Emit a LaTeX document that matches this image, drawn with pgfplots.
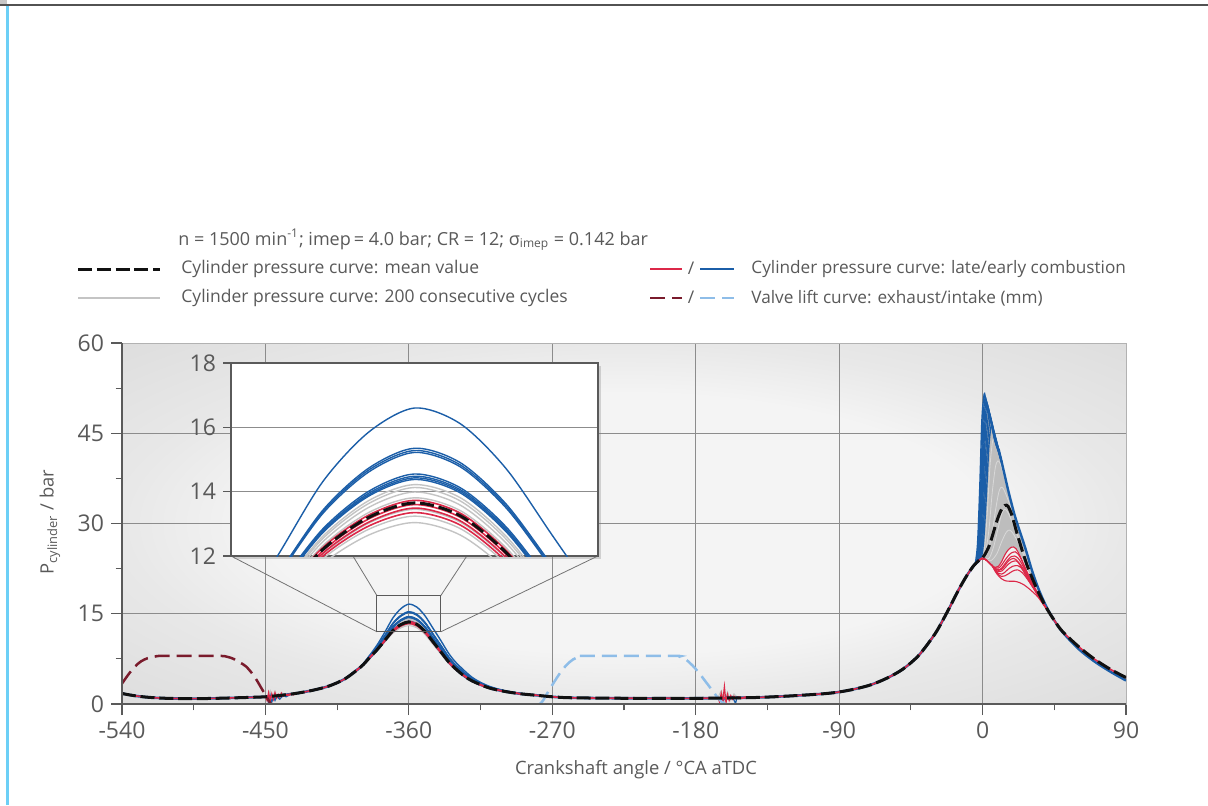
\documentclass[border=0pt]{standalone}
\usepackage{fontspec}
\setmainfont{Open Sans}
\usepackage{pgfplots}
\usepackage{pgfplotstable}
\pgfplotsset{compat=1.18}
\usetikzlibrary{shadows}

\definecolor{txt}{HTML}{595959}
\definecolor{meanc}{HTML}{111111}
\definecolor{latec}{HTML}{DC2848}
\definecolor{earlyc}{HTML}{1B5EA8}
\definecolor{exhc}{HTML}{7A1B2C}
\definecolor{intc}{HTML}{8EBDE8}
\definecolor{cycc}{HTML}{C4C4C4}
\definecolor{cycwc}{HTML}{D8D8D8}
\definecolor{cycfill}{HTML}{BDBDBD}
\definecolor{gridc}{HTML}{8C8C8C}
\definecolor{axc}{HTML}{5A5A5A}
\definecolor{edgeblue}{HTML}{6CCFF6}
\definecolor{bgin}{HTML}{F4F4F4}
\definecolor{bgedge}{HTML}{E8E8E8}
\definecolor{bgcorner}{HTML}{DDDDDD}

\pgfdeclareradialshading{vign}{\pgfpoint{0bp}{0bp}}{color(0bp)=(bgin); color(18bp)=(bgin); color(25bp)=(bgedge); color(36bp)=(bgcorner); color(50bp)=(bgcorner)}

\newcommand{\legfont}{\fontsize{8.75}{10}\selectfont}
\newcommand{\tickfont}{\fontsize{11.5}{13}\selectfont}

\pgfplotsset{
  meanl/.style={color=meanc, line width=1.5pt, dash pattern=on 7pt off 2.4pt, smooth},
  latel/.style={color=latec, line width=0.55pt, smooth},
  earlyl/.style={color=earlyc, line width=0.7pt, smooth},
  cycl/.style={color=cycc, line width=0.5pt, smooth},
  cycw/.style={color=cycwc, line width=0.4pt, smooth},
  exhl/.style={color=exhc, line width=1.25pt, dash pattern=on 7.5pt off 3.5pt, smooth},
  intl/.style={color=intc, line width=1.25pt, dash pattern=on 7.5pt off 3.5pt, smooth},
}

% mean cylinder pressure over the whole cycle
\pgfplotstableread{
x y
-540 1.75
-535 1.5
-530 1.3
-525 1.15
-520 1.05
-515 0.98
-510 0.93
-500 0.9
-490 0.9
-480 0.95
-470 1.02
-460 1.1
-450 1.2
-440 1.45
-430 1.8
-420 2.3
-410 3.0
-400 4.2
-390 6.2
-385 7.6
-380 9.0
-375 10.6
-370 12.2
-365 13.2
-360 13.65
-355 13.25
-350 12.1
-345 10.4
-340 8.7
-335 7.0
-330 5.7
-325 4.6
-320 3.8
-310 2.7
-300 2.1
-290 1.7
-280 1.45
-270 1.2
-260 1.05
-240 0.98
-220 0.95
-200 0.95
-180 0.95
-160 1.0
-140 1.1
-120 1.35
-100 1.7
-90 2.0
-80 2.5
-70 3.2
-60 4.3
-50 5.8
-40 8.1
-30 11.6
-25 13.9
-20 16.4
-15 19.0
-10 21.3
-6 22.85
-4 23.45
-2 23.95
0 24.3
2 25.1
4 26.2
6 27.8
8 29.6
10 31.2
12 32.4
14 33.0
15 33.05
16 32.85
18 31.7
20 29.9
22 28.0
25 25.4
28 23.0
31 21.0
35 18.6
40 16.0
45 13.9
50 12.1
60 9.6
70 7.5
80 5.8
90 4.4
}\tabMean

% single cycles around gas exchange TDC
\pgfplotstableread{
x M B1 B2 B3 B4 B5 B6 B7 B8 G1 G2 G3 G4 G5 G6 G7 R1 R2 R3 R4
-400 4.2 4.2 4.2 4.2 4.2 4.2 4.2 4.2 4.2 4.2 4.2 4.2 4.2 4.2 4.2 4.2 4.2 4.2 4.2 4.2
-390 6.2 6.33 6.28 6.27 6.27 6.24 6.24 6.24 6.23 6.17 6.18 6.19 6.21 6.22 6.22 6.23 6.19 6.19 6.20 6.20
-385 7.6 7.96 7.81 7.80 7.79 7.71 7.70 7.70 7.69 7.53 7.55 7.57 7.62 7.64 7.66 7.67 7.56 7.58 7.59 7.61
-380 9.0 9.78 9.45 9.43 9.41 9.24 9.22 9.21 9.19 8.84 8.89 8.95 9.04 9.09 9.13 9.15 8.92 8.96 8.99 9.02
-375 10.6 11.97 11.39 11.36 11.33 11.02 10.99 10.96 10.94 10.31 10.41 10.50 10.68 10.76 10.82 10.87 10.46 10.52 10.57 10.64
-370 12.2 14.31 13.42 13.37 13.32 12.84 12.79 12.76 12.72 11.76 11.91 12.05 12.32 12.44 12.54 12.61 11.99 12.08 12.16 12.26
-365 13.2 15.85 14.73 14.67 14.61 14.01 13.95 13.90 13.86 12.65 12.83 13.02 13.35 13.51 13.63 13.72 12.93 13.05 13.15 13.27
-360 13.65 16.60 15.35 15.28 15.22 14.55 14.48 14.43 14.38 13.04 13.24 13.45 13.81 13.99 14.13 14.22 13.35 13.49 13.60 13.73
-355 13.25 16.11 14.90 14.83 14.77 14.12 14.06 14.01 13.96 12.65 12.85 13.05 13.41 13.58 13.71 13.81 12.96 13.09 13.20 13.33
-350 12.1 14.71 13.61 13.55 13.49 12.90 12.84 12.79 12.75 11.56 11.74 11.92 12.25 12.40 12.52 12.61 11.83 11.95 12.05 12.17
-345 10.4 12.65 11.70 11.64 11.60 11.09 11.03 10.99 10.96 9.93 10.09 10.24 10.53 10.66 10.76 10.84 10.17 10.28 10.36 10.46
-340 8.7 10.58 9.78 9.74 9.70 9.27 9.23 9.20 9.17 8.31 8.44 8.57 8.80 8.92 9.01 9.07 8.51 8.60 8.67 8.75
-335 7.0 8.42 7.82 7.79 7.76 7.43 7.40 7.38 7.35 6.70 6.80 6.90 7.08 7.17 7.23 7.28 6.86 6.92 6.97 7.04
-330 5.7 6.78 6.32 6.30 6.28 6.03 6.01 5.99 5.98 5.47 5.55 5.62 5.76 5.83 5.88 5.91 5.59 5.64 5.68 5.73
-320 3.8 4.38 4.13 4.12 4.11 3.98 3.96 3.95 3.94 3.68 3.72 3.76 3.83 3.87 3.89 3.91 3.74 3.77 3.79 3.82
-310 2.7 2.99 2.87 2.86 2.86 2.79 2.78 2.78 2.77 2.64 2.66 2.68 2.72 2.73 2.75 2.76 2.67 2.68 2.69 2.71
-300 2.1 2.24 2.18 2.18 2.17 2.14 2.14 2.14 2.13 2.07 2.08 2.09 2.11 2.12 2.12 2.13 2.09 2.09 2.10 2.10
-290 1.7 1.74 1.73 1.72 1.72 1.71 1.71 1.71 1.71 1.7 1.7 1.7 1.7 1.7 1.7 1.7 1.7 1.7 1.7 1.7
-280 1.45 1.45 1.45 1.45 1.45 1.45 1.45 1.45 1.45 1.45 1.45 1.45 1.45 1.45 1.45 1.45 1.45 1.45 1.45 1.45
}\tabGX

\begin{document}
\begin{tikzpicture}
\useasboundingbox (0pt,0pt) rectangle (604pt,402.5pt);
\fill[black!22] (0pt,399.5pt) rectangle (3.5pt,402.5pt);
\draw[black!68, line width=1pt] (0pt,400pt) -- (604pt,400pt);
\draw[edgeblue, line width=1.3pt] (3.75pt,0pt) -- (3.75pt,399.5pt);

% legend
\node[anchor=west, inner sep=0, font=\fontsize{9}{10}\selectfont, text=txt] at (89pt,282.5pt) {n = 1500 min\textsuperscript{-1}; imep\,= 4.0 bar; CR = 12; σ\textsubscript{imep} = 0.142 bar};
\draw[meanc, line width=1.5pt, dash pattern=on 7pt off 2.4pt] (39pt,268pt) -- (80pt,268pt);
\node[anchor=west, inner sep=0, font=\legfont, text=txt] at (90.5pt,268pt) {Cylinder pressure curve: mean value};
\draw[cycc, line width=0.6pt] (39pt,253.5pt) -- (80pt,253.5pt);
\node[anchor=west, inner sep=0, font=\legfont, text=txt] at (90.5pt,253.5pt) {Cylinder pressure curve: 200 consecutive cycles};
\draw[latec, line width=0.6pt] (325pt,268pt) -- (341pt,268pt);
\node[inner sep=0, font=\legfont, text=txt] at (345.5pt,268.5pt) {/};
\draw[earlyc, line width=0.7pt] (350pt,268pt) -- (367pt,268pt);
\node[anchor=west, inner sep=0, font=\fontsize{8.6}{10}\selectfont, text=txt] at (375.5pt,268pt) {Cylinder pressure curve: late/early combustion};
\draw[exhc, line width=1.25pt, dash pattern=on 7.5pt off 3.5pt] (325pt,253.5pt) -- (341pt,253.5pt);
\node[inner sep=0, font=\legfont, text=txt] at (345.5pt,254pt) {/};
\draw[intc, line width=1.25pt, dash pattern=on 7.5pt off 3.5pt] (350pt,253.5pt) -- (367pt,253.5pt);
\node[anchor=west, inner sep=0, font=\fontsize{8.6}{10}\selectfont, text=txt] at (375.5pt,253.5pt) {Valve lift curve: exhaust/intake (mm)};

% axis titles
\node[font=\fontsize{9.2}{11}\selectfont, text=txt] at (318pt,17.5pt) {Crankshaft angle / °CA aTDC};
\node[rotate=90, font=\fontsize{9.2}{11}\selectfont, text=txt] at (25pt,141.5pt) {P\textsubscript{cylinder} / bar};

\begin{axis}[
  at={(61pt,50.5pt)}, anchor=south west,
  width=502pt, height=180.5pt, scale only axis,
  xmin=-540, xmax=90, ymin=0, ymax=60,
  xtick={-540,-450,...,90}, ytick={0,15,...,60},
  minor x tick num=1, minor y tick num=1,
  tick pos=left, tick align=outside,
  major tick length=5.5pt, minor tick length=3.2pt,
  tick style={axc, line width=0.6pt},
  grid=major, major grid style={gridc, line width=0.45pt},
  axis line style={draw=black!30, line width=0.5pt},
  axis background/.style={shading=vign},
  ticklabel style={font=\tickfont, text=txt},
  /pgf/number format/assume math mode=true,
  clip mode=individual,
]
% 200 cycles: band around combustion TDC
\addplot[fill=cycfill, draw=none] coordinates {
 (-2.8,23.9) (-1.25,26.94) (0.3,35.29) (1.85,45.41) (3.4,49.2) (5,47.7) (7,45.5) (10,42.4) (12,40.2)
 (14,37.9) (16,35.6) (18,33.5) (20,31.5) (22,29.8) (25,27.4) (28,24.9) (31,22.2) (35,19.2) (40,16.2)
 (40,16.0) (35,18.6) (31,20.9) (28,22.5) (25,24.2) (22,25.6) (19.5,26.1) (17,25.8) (14,24.8)
 (12,23.7) (10,22.9) (8,22.8) (6,23.1) (4,23.6) (2,24.0) (0,24.2) (-2,23.95)};
\addplot[cycw] coordinates {(0,24.3) (1.5,26.5) (3,32) (4.5,39) (6,43.2) (7,44.2) (8,43.9) (10,42.1) (12,40.0) (14,37.8) (16,35.5)};
\addplot[cycw] coordinates {(0,24.3) (2,25.5) (4,29) (6,35) (8,39.3) (9.5,40.4) (11,40.0) (13,38.3) (15,36.3) (17,34.3) (19,32.4) (22,29.7)};
\addplot[cycw] coordinates {(0,24.3) (3,25) (6,28.5) (8,32) (10,35) (11.5,36) (13,35.8) (15,34.6) (17,33.2) (19,31.6) (22,29.3) (25,27.2) (28,24.8)};
\addplot[cycw] coordinates {(0,24.3) (4,24.2) (7,26.2) (10,29.5) (12,31.6) (14,32.4) (16,31.8) (18,30.6) (20,29.3) (23,27.3) (26,25.3) (30,22.6) (35,19.1)};
\addplot[cycw] coordinates {(0,24.3) (5,23.8) (9,25) (12,27) (15,28.6) (17,28.9) (19,28.4) (22,27.0) (25,25.3) (28,23.4) (31,21.5) (35,19.0)};
% 200 cycles: gas exchange TDC
\pgfplotsinvokeforeach{G1,G2,G3,G4,G5,G6,G7}{\addplot[cycl] table[x=x,y=#1]{\tabGX};}
\addplot[cycc, line width=0.5pt] coordinates {(-448,1.5) (-447,2.2) (-446,1.0) (-444,2.1) (-442,0.9) (-440,1.9) (-437,1.5)};
\addplot[cycc, line width=0.5pt] coordinates {(-166,1.1) (-164,2.2) (-162,0.5) (-160,2.0) (-158,0.6) (-156,1.7) (-153,0.8) (-150,1.3)};

% early combustion cycles
\addplot[earlyc, line width=1.3pt, smooth, restrict x to domain=-540:-1] table[x=x,y=y]{\tabMean};
\pgfplotsinvokeforeach{B1,B2,B3,B4,B5,B6,B7,B8}{\addplot[earlyl] table[x=x,y=#1]{\tabGX};}
\addplot[earlyl] coordinates {(-8,22.15) (-6,22.85) (-4.5,23.5) (-3.1,26.9) (-1.75,36.1) (-0.4,47.3) (1,51.5) (2,50.6) (3,49.7) (5,47.7) (7,45.5) (10,42.4) (12,40.2)};
\addplot[earlyl] coordinates {(-8,22.15) (-6,22.85) (-4,23.65) (-2.6,26.92) (-1.2,35.91) (0.2,46.81) (1.6,50.9) (3,49.55) (5,47.55) (7,45.4) (10,42.35) (12,40.2)};
\addplot[earlyl] coordinates {(-8,22.15) (-6,22.85) (-3.6,23.75) (-2.15,26.94) (-0.7,35.7) (0.75,46.32) (2.2,50.3) (4,48.45) (7,45.25) (10,42.3) (12,40.2)};
\addplot[earlyl] coordinates {(-8,22.15) (-6,22.85) (-3.2,23.85) (-1.7,26.96) (-0.2,35.53) (1.3,45.91) (2.8,49.8) (4.5,47.8) (7,45.1) (10,42.25) (12,40.2)};
\addplot[earlyl] coordinates {(-8,22.15) (-6,22.85) (-2.8,23.9) (-1.25,26.94) (0.3,35.29) (1.85,45.41) (3.4,49.2) (5,47.2) (7,44.95) (10,42.2) (12,40.2)};
\addplot[earlyl] coordinates {(-8,22.15) (-6,22.85) (-2.3,24.0) (-0.675,26.93) (0.95,34.98) (2.575,44.74) (4.2,48.4) (6,45.85) (8,43.75) (10,42.1) (12,40.2)};
\addplot[earlyl] coordinates {(-8,22.15) (-6,22.85) (-1.8,24.05) (-0.1,26.86) (1.6,34.6) (3.3,43.98) (5,47.5) (7,44.6) (8.5,43.1) (10,41.95) (12,40.2)};
\addplot[earlyl] coordinates {(-8,22.15) (-6,22.85) (-1.2,24.1) (0.55,26.8) (2.3,34.2) (4.05,43.2) (5.8,46.6) (7.5,44.0) (10,41.9) (12,40.2)};
\addplot[earlyc, line width=1.2pt, smooth] coordinates {(10,42.4) (12,40.2) (14,37.9) (16,35.6) (18,33.5) (20,31.5) (22,29.8) (25,27.4) (28,24.9) (31,22.2) (35,19.2) (40,16.2) (45,13.9) (50,12.0) (60,9.2) (70,7.1) (80,5.4) (90,3.9)};
\addplot[earlyc, line width=0.6pt] coordinates {(-449,1.0) (-448,0.2) (-447,1.4) (-446,0.3) (-445,1.2) (-444,0.6) (-443,1.3) (-441,0.8) (-439,1.4) (-437,1.2) (-435,1.5)};
\addplot[earlyc, line width=0.6pt] coordinates {(-165,0.9) (-163,0.5) (-161,1.3) (-159,0.7) (-157,1.2) (-155,0.1) (-154,1.2) (-152,0.9) (-150,1.1)};

% late combustion cycles
\addplot[latec, line width=0.8pt, smooth, restrict x to domain=-540:0] table[x=x,y=y]{\tabMean};
\addplot[latec, line width=0.8pt, smooth, restrict x to domain=40:90] table[x=x,y=y]{\tabMean};
\pgfplotsinvokeforeach{R1,R2,R3,R4}{\addplot[latel] table[x=x,y=#1]{\tabGX};}
\addplot[latel] coordinates {(-2,23.95) (0,24.2) (2,24.0) (4,23.5) (6,23.0) (8,22.7) (10,22.9) (12,23.7) (14,24.8) (16,25.6) (18,26.05) (19.5,26.1) (21,25.8) (23,24.9) (25,23.7) (28,21.9) (31,20.2) (35,18.2) (40,15.9)};
\addplot[latel] coordinates {(-2,23.95) (0,24.2) (2,24.0) (4,23.5) (6,23.0) (8,22.6) (10,22.6) (12,23.1) (14,23.9) (16,24.6) (18,25.1) (20.5,25.3) (22,25.0) (24,24.2) (27,22.4) (30,20.7) (35,18.2) (40,15.9)};
\addplot[latel] coordinates {(-2,23.95) (0,24.2) (2,24.0) (4,23.5) (6,23.0) (8,22.5) (10,22.3) (12,22.6) (14,23.3) (16,24.0) (18,24.5) (20,24.6) (22,24.3) (24,23.6) (27,22.1) (30,20.5) (35,18.1) (40,15.9)};
\addplot[latel] coordinates {(-2,23.95) (0,24.2) (2,24.0) (4,23.5) (6,23.0) (8,22.3) (10,22.0) (12,22.1) (14,22.6) (16,23.2) (18,23.6) (21,23.8) (23,23.4) (26,22.3) (29,20.8) (32,19.4) (35,18.0) (40,15.9)};
\addplot[latel] coordinates {(-2,23.95) (0,24.2) (2,24.0) (4,23.5) (6,23.0) (8,22.2) (10,21.7) (12,21.6) (14,21.9) (16,22.4) (19,22.9) (22,23.0) (24,22.7) (27,21.6) (30,20.2) (35,18.0) (40,15.9)};
\addplot[latel] coordinates {(-2,23.95) (0,24.2) (2,24.0) (4,23.5) (6,23.0) (8,22.1) (10,21.5) (12,21.2) (14,21.3) (16,21.6) (19,22.1) (22,22.3) (25,21.8) (28,20.8) (31,19.6) (35,17.9) (40,15.9)};
\addplot[latel] coordinates {(-2,23.95) (0,24.2) (2,24.0) (4,23.5) (6,23.0) (8,22.0) (10,21.3) (12,20.8) (14,20.5) (17,20.4) (20,20.4) (23,20.2) (26,19.8) (29,19.2) (32,18.5) (35,17.7) (40,15.8)};
\addplot[latel] coordinates {(-2,23.95) (0,24.2) (2,24.0) (4,23.5) (6,23.0) (8,22.4) (10,22.2) (12,22.4) (14,23.0) (16,23.7) (18,24.1) (19.5,24.2) (21,24.0) (23,23.3) (26,21.9) (29,20.5) (32,19.3) (35,18.1) (40,15.9)};
\addplot[latec, line width=0.6pt] coordinates {(-450,1.2) (-449,0.6) (-448,1.9) (-447,0.5) (-446,1.7) (-445,0.8) (-444,1.9) (-443,1.0) (-442,1.6) (-441,1.1) (-440,1.8) (-439,1.3) (-438,1.6) (-436,1.4) (-434,1.6) (-432,1.5)};
\addplot[latec, line width=0.6pt] coordinates {(-166,1.0) (-165,0.3) (-164,1.8) (-163,0.4) (-162,2.9) (-161,0.2) (-160,1.6) (-159,0.6) (-158,1.4) (-157,0.8) (-156,1.3) (-155,0.9) (-153,1.2) (-151,0.9) (-149,1.2) (-147,1.05)};

% valve lifts
\addplot[exhl] coordinates {(-540,3.4) (-536,4.9) (-532,6.2) (-528,7.1) (-524,7.6) (-519,7.9) (-514,8.0) (-480,8.0) (-474,7.85) (-470,7.5) (-466,6.9) (-462,6.2) (-457,4.6) (-452,2.4) (-448,0.6) (-446.5,0)};
\addplot[intl] coordinates {(-278,0) (-276,0.5) (-272,2.3) (-268,4.0) (-265,5.2) (-261,6.5) (-257,7.4) (-253,7.85) (-249,8.0) (-194,8.0) (-190,7.85) (-186,7.35) (-182,6.4) (-178,5.2) (-174,3.8) (-170,2.4) (-166,1.0) (-163,0.2) (-161,0)};

% mean value
\addplot[meanl] table[x=x,y=y]{\tabMean};

% zoom frame and projection lines
\draw[black!55, line width=0.4pt] (axis cs:-471.6,24.6) -- (axis cs:-380,12);
\draw[black!55, line width=0.4pt] (axis cs:-241.4,24.6) -- (axis cs:-340,12);
\draw[black!55, line width=0.4pt] (axis cs:-395.1,24.6) -- (axis cs:-380,18);
\draw[black!55, line width=0.4pt] (axis cs:-323.6,24.6) -- (axis cs:-340,18);
\draw[axc, line width=0.5pt] (axis cs:-380,12) rectangle (axis cs:-340,18);
\draw[axc, line width=0.8pt] (rel axis cs:0,1) -- (rel axis cs:0,0) -- (rel axis cs:1,0);
\end{axis}

\begin{axis}[
  at={(115.5pt,124.5pt)}, anchor=south west,
  width=183.5pt, height=96.5pt, scale only axis,
  xmin=-380, xmax=-340, ymin=12, ymax=18,
  xtick=\empty, ytick={12,14,16,18},
  tick pos=left, tick align=outside, major tick length=4pt,
  tick style={axc, line width=0.6pt},
  ymajorgrids, major grid style={gridc, line width=0.45pt},
  axis line style={axc, line width=0.6pt},
  axis background/.style={fill=white, drop shadow={shadow xshift=1.5pt, shadow yshift=-1.5pt, opacity=0.3}},
  ticklabel style={font=\tickfont, text=txt},
  /pgf/number format/assume math mode=true,
]
\pgfplotsinvokeforeach{G1,G2,G3,G4,G5,G6,G7}{\addplot[cycl, line width=0.7pt] table[x=x,y=#1]{\tabGX};}
\pgfplotsinvokeforeach{B1,B2,B3,B4,B5,B6,B7,B8}{\addplot[earlyl] table[x=x,y=#1]{\tabGX};}
\pgfplotsinvokeforeach{R1,R2,R3,R4}{\addplot[latel, line width=0.8pt] table[x=x,y=#1]{\tabGX};}
\addplot[meanl] table[x=x,y=M]{\tabGX};
\end{axis}
\end{tikzpicture}
\end{document}
